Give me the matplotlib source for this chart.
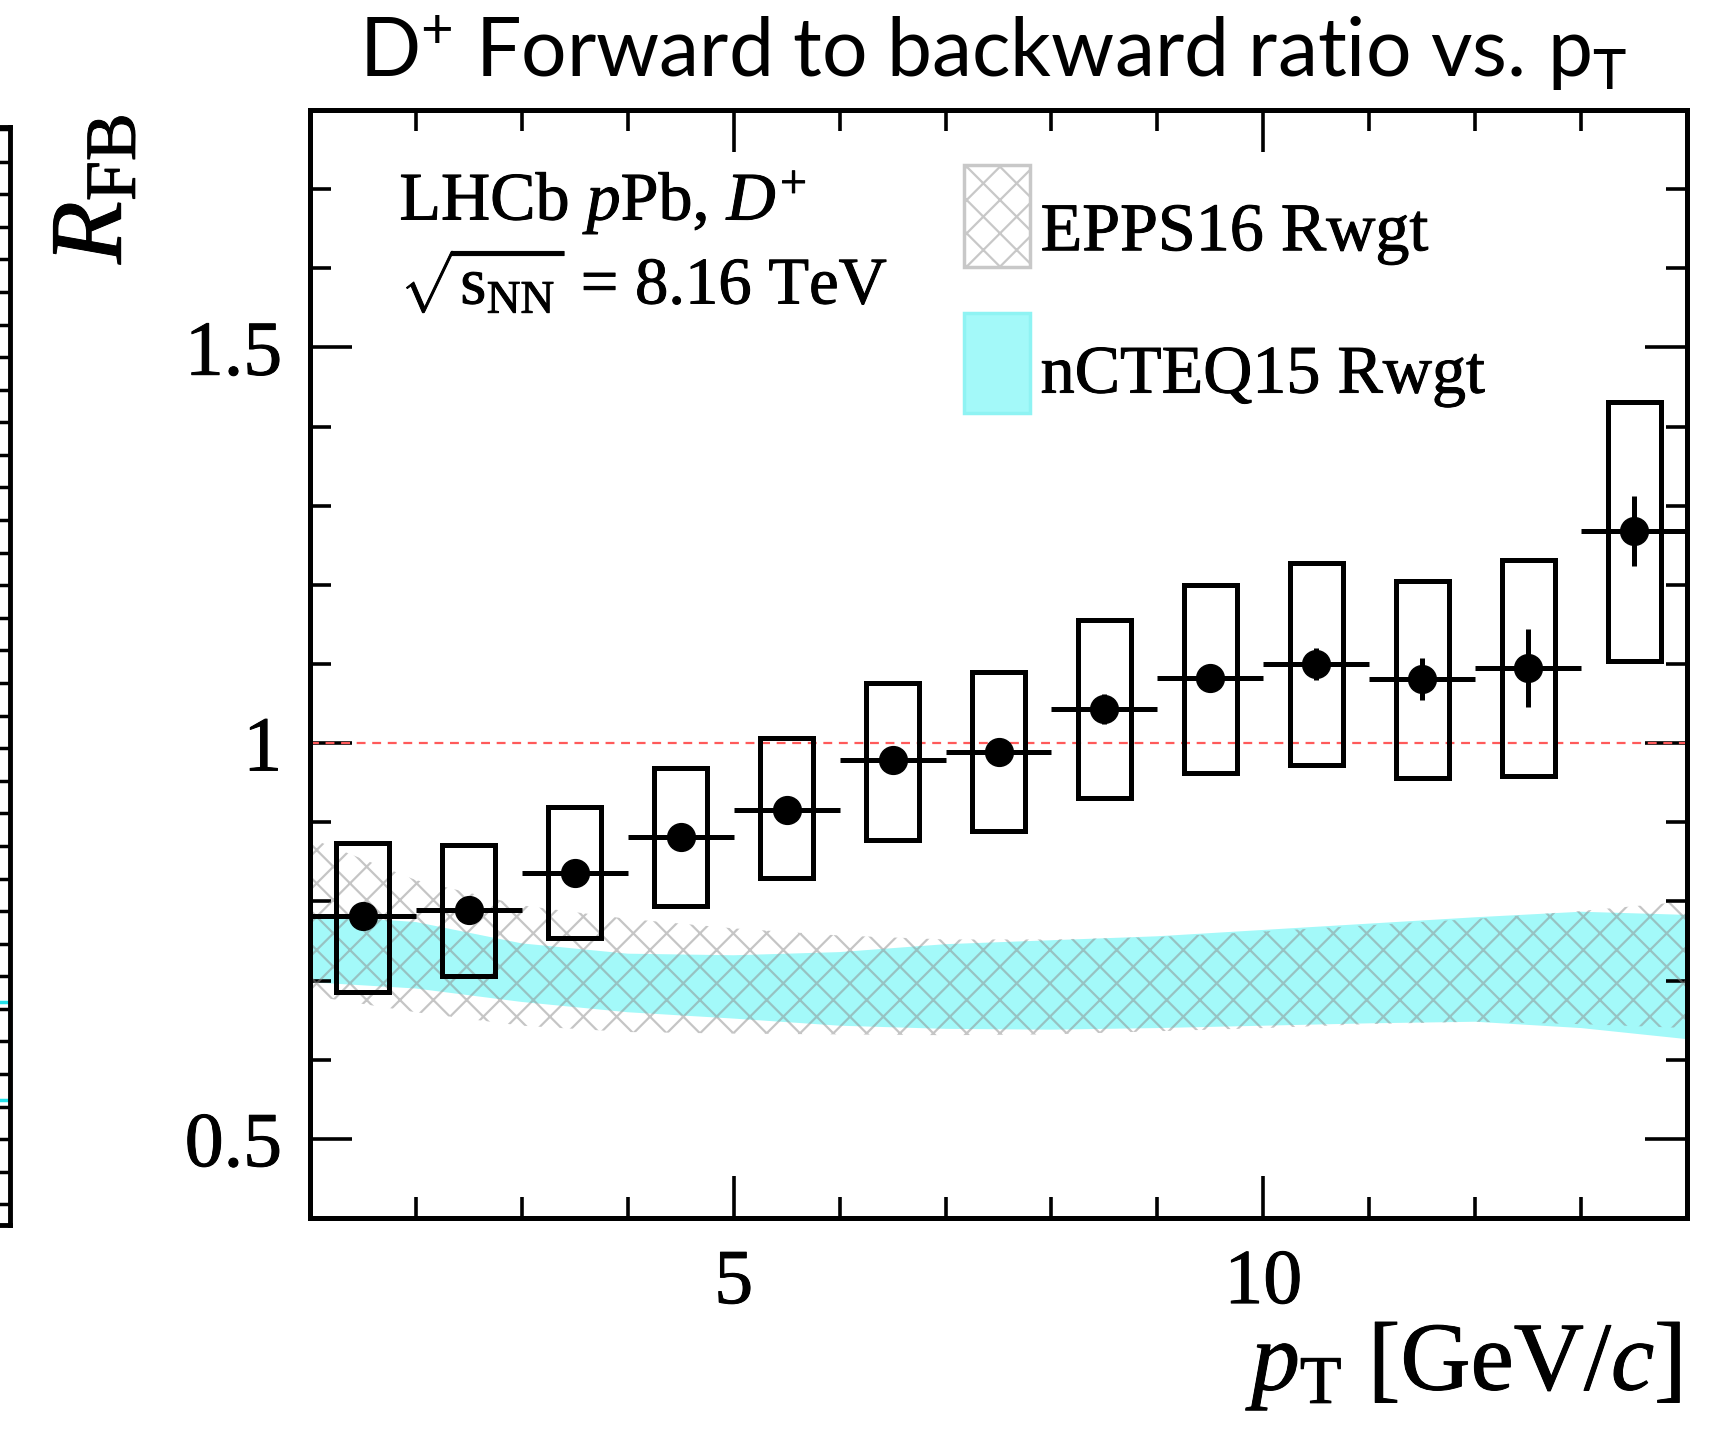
import matplotlib
matplotlib.use("Agg")
import matplotlib.pyplot as plt
import matplotlib.patheffects as pe
from matplotlib.patches import Rectangle
from matplotlib.ticker import MultipleLocator, FixedLocator
import numpy as np

plt.rcParams['mathtext.fontset'] = 'custom'
plt.rcParams['mathtext.rm'] = 'Liberation Serif'
plt.rcParams['mathtext.it'] = 'Liberation Serif:italic'
plt.rcParams['mathtext.bf'] = 'Liberation Serif:bold'
plt.rcParams['mathtext.sf'] = 'Lato'
plt.rcParams['font.family'] = 'Liberation Serif'
plt.rcParams['hatch.linewidth'] = 1.6

# data: D+ forward/backward ratio in pT bins
pt_centers = [1.5, 2.5, 3.5, 4.5, 5.5, 6.5, 7.5, 8.5, 9.5, 10.5, 11.5, 12.5, 13.5]
pt_halfwidth = [0.5] * 13
rfb = [0.781, 0.789, 0.836, 0.881, 0.915, 0.979, 0.989, 1.043, 1.082, 1.100,
       1.081, 1.095, 1.268]
rfb_stat = [0.010, 0.010, 0.010, 0.010, 0.010, 0.010, 0.010, 0.019, 0.012,
            0.020, 0.027, 0.049, 0.044]
syst_lo = [0.685, 0.706, 0.754, 0.794, 0.829, 0.878, 0.889, 0.931, 0.962,
           0.973, 0.956, 0.958, 1.104]
syst_hi = [0.874, 0.871, 0.919, 0.968, 1.006, 1.076, 1.090, 1.156, 1.200,
           1.228, 1.205, 1.232, 1.431]

# theory bands
band_pt = [1, 2, 3, 4, 5, 6, 7, 8, 9, 10, 11, 12, 13, 14]
epps_lo = [0.681, 0.660, 0.643, 0.635, 0.633, 0.632, 0.631, 0.632, 0.636,
           0.640, 0.645, 0.648, 0.645, 0.640]
epps_hi = [0.880, 0.827, 0.795, 0.778, 0.766, 0.757, 0.752, 0.752, 0.755,
           0.762, 0.770, 0.778, 0.788, 0.800]
ncteq_lo = [0.698, 0.690, 0.673, 0.660, 0.652, 0.643, 0.639, 0.638, 0.640,
            0.643, 0.646, 0.648, 0.640, 0.626]
ncteq_hi = [0.783, 0.774, 0.747, 0.734, 0.732, 0.736, 0.746, 0.751, 0.756,
            0.764, 0.772, 0.780, 0.787, 0.783]

CYAN = '#a3f9f9'
bold_fx = [pe.withStroke(linewidth=0.7, foreground='black')]

fig = plt.figure(figsize=(17.18, 14.44), dpi=100)

# piece of the neighbouring panel cut at the left edge
ax0 = fig.add_axes([-0.3, 0.1517, 0.3058, 0.7603])
ax0.set_xlim(0, 1)
ax0.set_ylim(0.37, 34.06)
ax0.plot([0.97, 1.0, 1.0, 0.97], [4.2, 4.2, 7.2, 7.2], color='#22e0e8',
         lw=2.5, clip_on=False)
ax0.yaxis.set_major_locator(MultipleLocator(1))
ax0.tick_params(axis='y', which='both', left=False, right=True, labelleft=False,
                direction='in', length=12, width=2.5)
ax0.tick_params(axis='x', bottom=False, labelbottom=False)
for s in ax0.spines.values():
    s.set_linewidth(3.5)

ax = fig.add_axes([0.1804, 0.1565, 0.8016, 0.7673])

ax.fill_between(band_pt, ncteq_lo, ncteq_hi, facecolor=CYAN, edgecolor='none',
                lw=0, zorder=1)
ax.fill_between(band_pt, epps_lo, epps_hi, facecolor='none',
                edgecolor=(0.55, 0.55, 0.55, 0.5), hatch='x', lw=0, zorder=2)

ax.axhline(1.0, color='#ff5a5a', lw=1.6, ls=(0, (4, 3)), zorder=2.5)

for xc, lo, hi in zip(pt_centers, syst_lo, syst_hi):
    ax.add_patch(Rectangle((xc - 0.25, lo), 0.5, hi - lo, fill=False,
                           edgecolor='black', lw=3.6, zorder=3))

ax.errorbar(pt_centers, rfb, xerr=pt_halfwidth, yerr=rfb_stat, fmt='o',
            color='black', ms=20, elinewidth=3.6, capsize=0, zorder=4)

ax.set_xlim(1, 14)
ax.set_ylim(0.4, 1.8)
ax.xaxis.set_major_locator(FixedLocator([5, 10]))
ax.xaxis.set_minor_locator(MultipleLocator(1))
ax.yaxis.set_major_locator(FixedLocator([0.5, 1.0, 1.5]))
ax.yaxis.set_minor_locator(MultipleLocator(0.1))
ax.set_yticklabels(['0.5', '1', '1.5'])
ax.tick_params(which='both', direction='in', top=True, right=True, width=2.6,
               labelsize=56)
ax.tick_params(which='major', length=30)
ax.tick_params(which='minor', length=15)
ax.tick_params(axis='x', pad=22)
ax.tick_params(axis='y', pad=20)
for s in ax.spines.values():
    s.set_linewidth(3.6)
for lab in ax.get_xticklabels() + ax.get_yticklabels():
    lab.set_path_effects(bold_fx)

xl = ax.set_xlabel(r'$p_{\mathrm{T}}$ [GeV/$c$]', fontsize=70, ha='right',
                   x=1.0, labelpad=0)
xl.set_path_effects(bold_fx)
fig.text(0.056, 0.921, r'$R_{\mathrm{FB}}$', fontsize=74, rotation=90,
         ha='center', va='top', path_effects=bold_fx)

ax.text(0.065, 0.901, r'LHCb $p$Pb, $D^{+}$', transform=ax.transAxes,
        fontsize=49, ha='left', va='baseline', path_effects=bold_fx)
ax.text(0.066, 0.825, r'$\sqrt{\mathrm{s}_{\mathrm{NN}}}$ = 8.16 TeV',
        transform=ax.transAxes, fontsize=48, ha='left', va='baseline',
        path_effects=bold_fx)

# legend drawn by hand
ax.add_patch(Rectangle((0.475, 0.8587), 0.0477, 0.0919, transform=ax.transAxes,
                       facecolor='white', edgecolor='#c8c8c8', hatch='x',
                       lw=2.5, zorder=5))
ax.add_patch(Rectangle((0.475, 0.7263), 0.0477, 0.0909, transform=ax.transAxes,
                       facecolor=CYAN, edgecolor='#8ff3f3', lw=2.5, zorder=5))
ax.text(0.5306, 0.8735, 'EPPS16 Rwgt', transform=ax.transAxes, fontsize=49,
        ha='left', va='baseline', path_effects=bold_fx)
ax.text(0.5306, 0.745, 'nCTEQ15 Rwgt', transform=ax.transAxes, fontsize=49,
        ha='left', va='baseline', path_effects=bold_fx)

fig.text(0.578, 0.947, r'$\mathsf{D^{+}\ Forward\ to\ backward\ ratio\ vs.\,p_{T}}$',
         fontsize=58, ha='center', va='baseline')

fig.savefig('out.png', dpi=100)
